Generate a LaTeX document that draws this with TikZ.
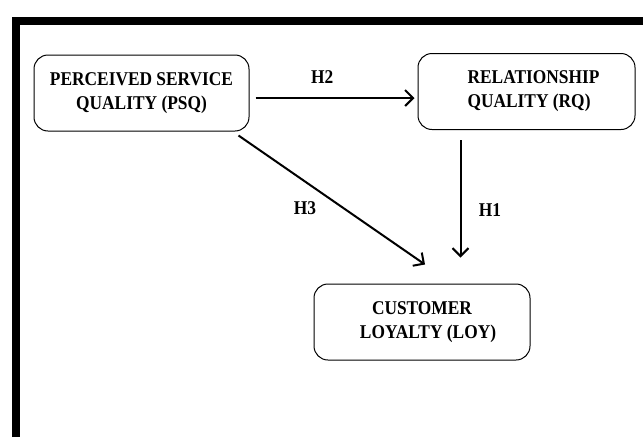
\documentclass[tikz,border=0pt]{standalone}
\usepackage{fontspec}
\setmainfont{Liberation Serif}[FakeStretch=0.89]
\usetikzlibrary{arrows.meta,positioning}
\tikzset{
  construct/.style={draw,line width=1pt,rounded corners=14pt,minimum width=215pt,minimum height=76pt,align=center,font=\fontsize{19.5}{24}\selectfont\bfseries},
  hypo/.style={line width=2pt,-{Straight Barb[length=8pt,width=16pt,line width=2pt]}},
  tag/.style={font=\fontsize{19.5}{22}\selectfont\bfseries},
  frame/.style={line width=8pt}
}
\begin{document}
\begin{tikzpicture}[x=1pt,y=-1pt]
      \useasboundingbox (0,0) rectangle (643,437);
      \draw[frame] (15.5,437) -- (15.5,21) -- (643,21);

      \node[construct] (psq) at (141.5,93) {PERCEIVED SERVICE\\QUALITY (PSQ)};
      \node[construct,minimum width=217pt,align=left] (rq) at (526.5,91.5) {\hspace*{14pt}RELATIONSHIP\\\hspace*{14pt}QUALITY (RQ)};
      \node[construct,minimum width=216pt] (loy) at (422,322) {CUSTOMER\\\hspace*{12pt}LOYALTY (LOY)};

      \draw[hypo] ([xshift=6pt,yshift=-5pt]psq.east) -- ([xshift=-3pt,yshift=-5pt]psq.east -| rq.west)
        node[tag,pos=0.42,above=10pt] {H2};
      \draw[hypo] ([xshift=-11pt,yshift=-4pt]psq.south east) -- ([xshift=3pt,yshift=19pt]loy.north)
        node[tag,pos=0.45,below left=4pt and 2pt] {H3};
      \draw[hypo] ([xshift=-66pt,yshift=-10pt]rq.south) -- ([xshift=-66pt,yshift=26pt]rq.south |- loy.north)
        node[tag,pos=0.6,right=14pt] {H1};
    \end{tikzpicture}
\end{document}
